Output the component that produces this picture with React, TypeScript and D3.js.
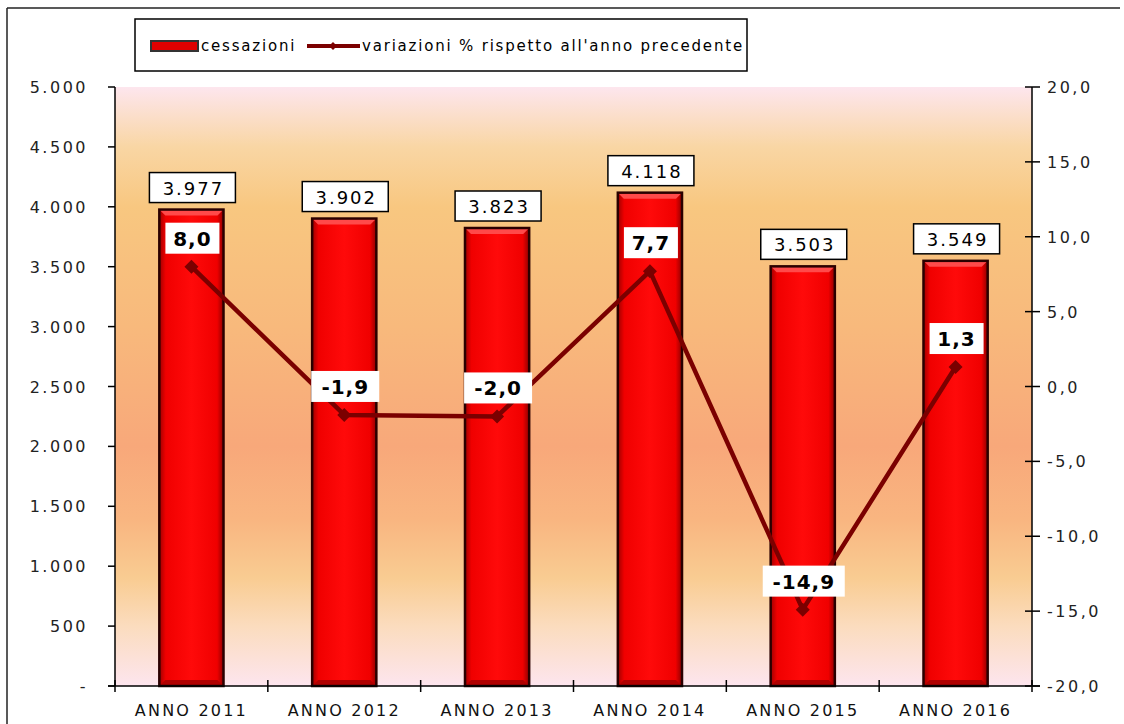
import React from 'react'
import { scaleBand, scaleLinear, line } from 'd3'

const years = ['ANNO 2011', 'ANNO 2012', 'ANNO 2013', 'ANNO 2014', 'ANNO 2015', 'ANNO 2016']
const cessazioni = [3977, 3902, 3823, 4118, 3503, 3549]
const variazioni = [8.0, -1.9, -2.0, 7.7, -14.9, 1.3]
const leftTicks = [0, 500, 1000, 1500, 2000, 2500, 3000, 3500, 4000, 4500, 5000]
const rightTicks = [-20, -15, -10, -5, 0, 5, 10, 15, 20]

const width = 1124
const height = 724
const left = 115
const right = 1032
const top = 87
const bottom = 686

const font = 'DejaVu Sans, Verdana, sans-serif'

const fmtThousand = (v: number) => {
  if (v === 0) return '-'
  const s = String(v)
  return s.length > 3 ? s.slice(0, s.length - 3) + '.' + s.slice(-3) : s
}
const fmtDec = (v: number) => v.toFixed(1).replace('.', ',')

const App = () => {
  const x = scaleBand<string>().domain(years).range([left, right]).padding(0)
  const yL = scaleLinear().domain([0, 5000]).range([bottom, top])
  const yR = scaleLinear().domain([-20, 20]).range([bottom, top])
  const bw = x.bandwidth() * 0.42
  const cx = (d: string) => (x(d) as number) + x.bandwidth() / 2

  const pts: [number, number][] = years.map((d, i) => [cx(d), yR(variazioni[i])])
  const path = line()(pts) as string

  const diamond = (px: number, py: number, r: number) =>
    `M${px},${py - r}L${px + r},${py}L${px},${py + r}L${px - r},${py}Z`

  return (
    <svg width={width} height={height} style={{ position: 'absolute', left: 0, top: 0, background: '#fff' }}>
      <defs>
        <linearGradient id="bg" x1="0" y1="0" x2="0" y2="1">
          <stop offset="0" stopColor="#fde6ee" />
          <stop offset="0.1" stopColor="#f9d6a4" />
          <stop offset="0.2" stopColor="#f8c780" />
          <stop offset="0.4" stopColor="#f8b97c" />
          <stop offset="0.6" stopColor="#f8a87a" />
          <stop offset="0.72" stopColor="#f9b580" />
          <stop offset="0.82" stopColor="#f9cc92" />
          <stop offset="0.9" stopColor="#fbdcbe" />
          <stop offset="1" stopColor="#fde5ee" />
        </linearGradient>
        <linearGradient id="bar" x1="0" y1="0" x2="1" y2="0">
          <stop offset="0" stopColor="#a00000" />
          <stop offset="0.1" stopColor="#f00000" />
          <stop offset="0.5" stopColor="#ff0a0a" />
          <stop offset="0.9" stopColor="#f00000" />
          <stop offset="1" stopColor="#900000" />
        </linearGradient>
      </defs>

      {/* frame */}
      <line x1={7} y1={8} x2={1120} y2={8} stroke="#222" strokeWidth={1.5} />
      <line x1={7} y1={8} x2={7} y2={height} stroke="#222" strokeWidth={1.5} />

      {/* plot background */}
      <rect x={left} y={top} width={right - left} height={bottom - top} fill="url(#bg)" />

      {/* bars */}
      {years.map((d, i) => {
        const x0 = cx(d) - bw / 2
        const y0 = yL(cessazioni[i])
        const h = bottom - y0
        const b = 6
        return (
          <g key={d}>
            <rect x={x0} y={y0} width={bw} height={h} fill="url(#bar)" />
            <path d={`M${x0},${y0}L${x0 + bw},${y0}L${x0 + bw - b},${y0 + b}L${x0 + b},${y0 + b}Z`} fill="#ff4a4a" />
            <path d={`M${x0},${bottom}L${x0 + bw},${bottom}L${x0 + bw - b},${bottom - b}L${x0 + b},${bottom - b}Z`} fill="#b00000" />
            <rect x={x0} y={y0} width={bw} height={h} fill="none" stroke="#2a0000" strokeWidth={2.5} />
          </g>
        )
      })}

      {/* bar value labels */}
      {years.map((d, i) => {
        const y0 = yL(cessazioni[i])
        return (
          <g key={d}>
            <rect x={cx(d) - 42} y={y0 - 37} width={86} height={30} fill="#fff" stroke="#000" strokeWidth={1.5} />
            <text x={cx(d) + 2} y={y0 - 15} textAnchor="middle" fontFamily={font} fontSize={18} letterSpacing={2} fill="#000">
              {fmtThousand(cessazioni[i])}
            </text>
          </g>
        )
      })}

      {/* line */}
      <path d={path} fill="none" stroke="#7b0000" strokeWidth={4.5} strokeLinejoin="round" />
      {pts.map(([px, py], i) => (
        <path key={i} d={diamond(px, py, 7)} fill="#7b0000" />
      ))}

      {/* line labels */}
      {pts.map(([px, py], i) => {
        const t = fmtDec(variazioni[i])
        const w = t.length * 14 + 12
        return (
          <g key={i}>
            <rect x={px - w / 2 + 1} y={py - 44} width={w} height={31} fill="#fff" />
            <text x={px + 1} y={py - 21} textAnchor="middle" fontFamily={font} fontWeight="bold" fontSize={20} letterSpacing={1} fill="#000">
              {t}
            </text>
          </g>
        )
      })}

      {/* left axis */}
      <line x1={left} y1={top} x2={left} y2={bottom} stroke="#000" strokeWidth={1.5} />
      {leftTicks.map(t => (
        <g key={t}>
          <line x1={left - 7} x2={left} y1={yL(t)} y2={yL(t)} stroke="#000" strokeWidth={1.5} />
          <text x={88} y={yL(t) + 6} textAnchor="end" fontFamily={font} fontSize={16} letterSpacing={2.5} fill="#222">
            {fmtThousand(t)}
          </text>
        </g>
      ))}

      {/* right axis */}
      <line x1={right} y1={top} x2={right} y2={bottom} stroke="#000" strokeWidth={1.5} />
      {rightTicks.map(t => (
        <g key={t}>
          <line x1={right - 7} x2={right + 8} y1={yR(t)} y2={yR(t)} stroke="#000" strokeWidth={1.5} />
          <text x={1047} y={yR(t) + 6} textAnchor="start" fontFamily={font} fontSize={16} letterSpacing={2.5} fill="#222">
            {fmtDec(t)}
          </text>
        </g>
      ))}

      {/* bottom axis */}
      <line x1={left - 7} y1={bottom} x2={right + 8} y2={bottom} stroke="#000" strokeWidth={1.5} />
      {[...years.map(d => x(d) as number), right].map((v, i) => (
        <line key={i} x1={v} x2={v} y1={bottom - 6} y2={bottom + 6} stroke="#000" strokeWidth={1.5} />
      ))}
      {years.map(d => (
        <text key={d} x={cx(d)} y={716} textAnchor="middle" fontFamily={font} fontSize={16} letterSpacing={2.2} fill="#111">
          {d}
        </text>
      ))}

      {/* legend */}
      <rect x={135} y={19} width={612} height={52} fill="#fff" stroke="#000" strokeWidth={1.5} />
      <rect x={151} y={41} width={47} height={10} fill="#e00000" stroke="#333" strokeWidth={2} />
      <text x={201} y={51} fontFamily={font} fontSize={15} letterSpacing={1.8} fill="#000">cessazioni</text>
      <line x1={307} x2={360} y1={46} y2={46} stroke="#7b0000" strokeWidth={4} />
      <path d={diamond(333, 46, 4)} fill="#7b0000" />
      <text x={362} y={51} fontFamily={font} fontSize={15} letterSpacing={1.8} fill="#000">
        variazioni % rispetto all'anno precedente
      </text>
    </svg>
  )
}

export default App
